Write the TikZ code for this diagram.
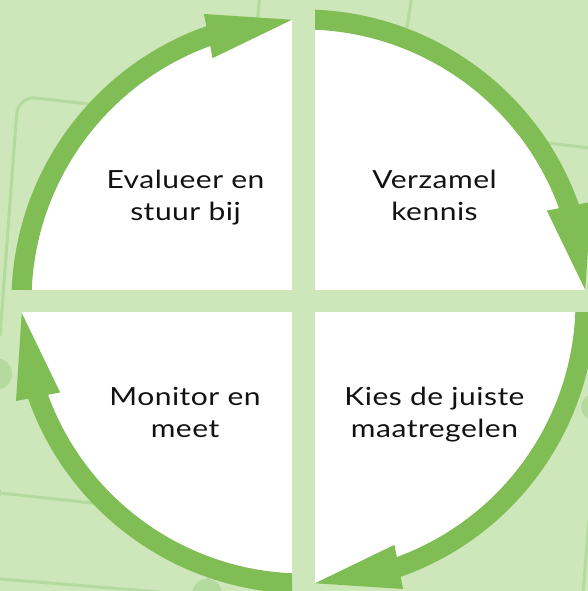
\documentclass[tikz,border=0pt]{standalone}
\usepackage{fontspec}
\setmainfont{Lato}[FakeStretch=1.2, LetterSpace=2]
\usetikzlibrary{calc}
\definecolor{bgg}{HTML}{CDE6BA}
\definecolor{lineg}{HTML}{B5DAA0}
\definecolor{arcg}{HTML}{80BE55}
\begin{document}
\begin{tikzpicture}[x=1pt,y=1pt,
  band/.style={line width=20pt, draw=arcg},
  head/.style={fill=arcg},
  bgline/.style={draw=lineg, line width=3pt},
  bgdot/.style={fill=lineg},
  lbl/.style={font=\fontsize{25}{32}\selectfont, align=center, text=black!93, inner sep=0pt}]
\fill[bgg] (0,0) rectangle (588,591);
\useasboundingbox (0,0) rectangle (588,591);
% background pattern (image coordinates)
\begin{scope}[yshift=591pt, yscale=-1]
  \clip (0,0) rectangle (588,591);
  \draw[bgline, rounded corners=18pt] (0,336) -- (18,96) -- (150,111);
  \draw[bgline] (259.5,-2) -- (256,40);
  \draw[bgline] (411.5,-2) -- (405,40);
  \draw[bgline] (530,141) -- (590,148);
  \fill[bgdot] (594,407) circle (13pt);
  \draw[bgline] (589,520) -- (583,593);
  \fill[bgdot] (-4,374) circle (16pt);
  \fill[bgdot] (-3,493) circle (5pt);
  \draw[bgline] (0,493) -- (120,506);
  \draw[bgline] (0,579) -- (160,592);
  \fill[bgdot] (207,594) circle (15pt);
  \draw[bgline] (208,570) -- (208,594);
\end{scope}
\coordinate (C) at (303.5,289.5);
\foreach \n/\xa/\ya/\xb/\yb/\s in {TL/0/301/292/591/180, TR/315/301/588/591/90, BR/315/0/588/278/0, BL/0/0/292/278/-90} {
  \pgfmathsetmacro\sa{\s+5}
  \pgfmathsetmacro\ea{\s-72.3}
  \pgfmathsetmacro\ta{\s-87.66}
  \pgfmathsetmacro\ba{\s-70.26}
  \begin{scope}
    \clip (\xa,\ya) rectangle (\xb,\yb);
    \fill[white] (C) circle (282pt);
    \draw[band] ($(C)+(\sa:282pt)$) arc[start angle=\sa, end angle=\ea, radius=282pt];
    \coordinate (t\n) at ($(C)+(\ta:282pt)$);
    \coordinate (b\n) at ($(C)+(\ba:282pt)$);
    \fill[head] (t\n) -- ($(b\n)!22.5pt!90:(t\n)$) -- ($(b\n)!22.5pt!-90:(t\n)$) -- cycle;
  \end{scope}
}
\node[lbl, anchor=base] (eval) at (185.5,370) {Evalueer en\\stuur bij};
\node[lbl, anchor=base] (verz) at (434.5,370) {Verzamel\\kennis};
\node[lbl, anchor=base] (moni) at (185,153) {Monitor en\\meet};
\node[lbl, anchor=base] (kies) at (434.5,153) {Kies de juiste\\maatregelen};
\end{tikzpicture}
\end{document}
